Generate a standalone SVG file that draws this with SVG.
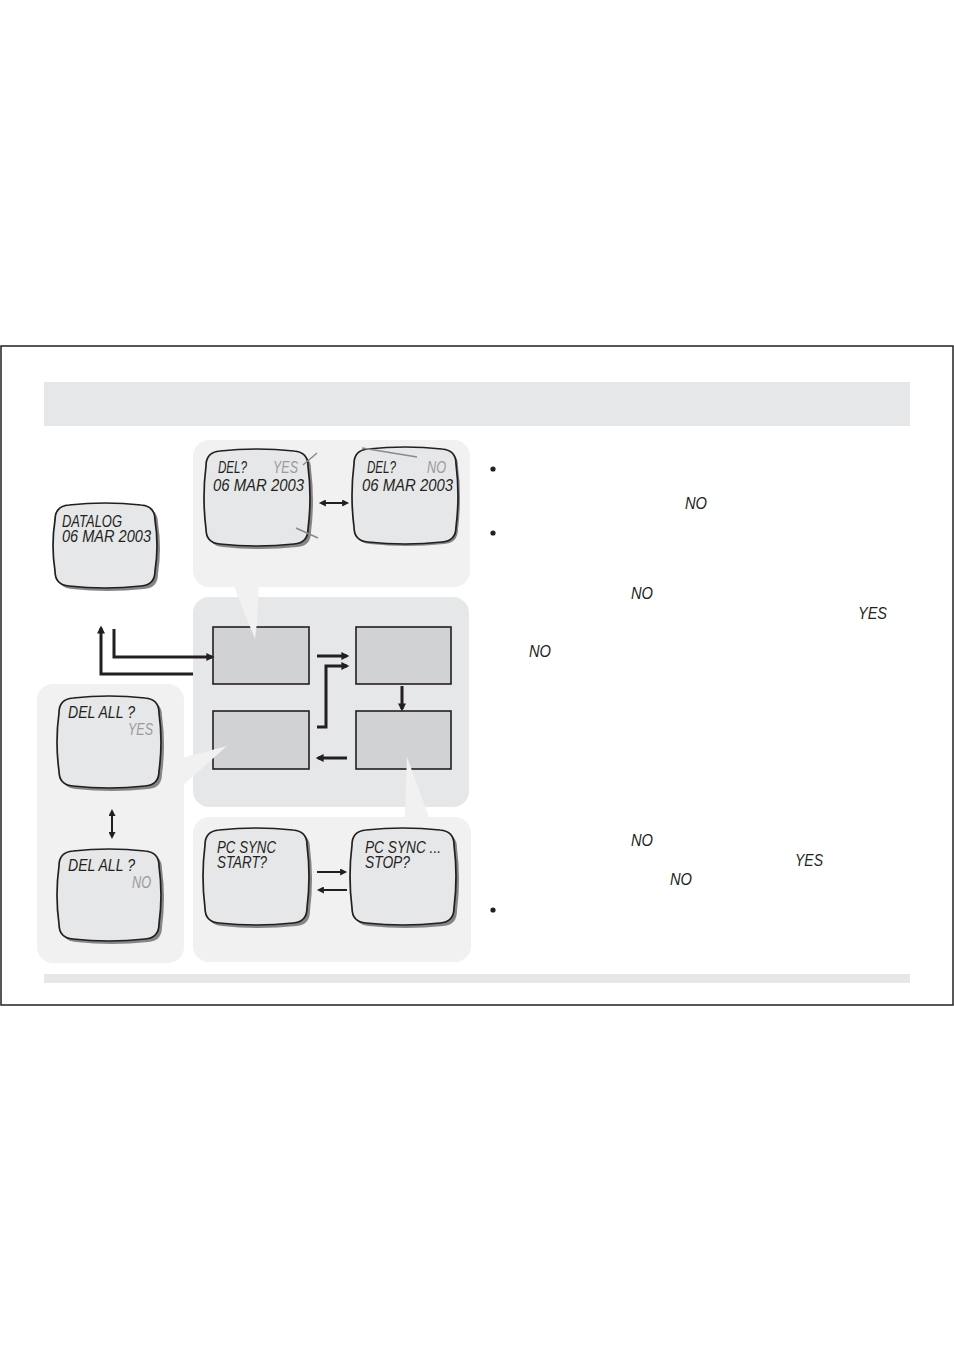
<svg xmlns="http://www.w3.org/2000/svg" xmlns:xlink="http://www.w3.org/1999/xlink" width="954" height="1351" viewBox="0 0 954 1351">
<style>
.panel{fill:#f1f1f1}
.cpanel{fill:#e6e7e8}
.box{fill:#d1d2d4;stroke:#231f20;stroke-width:1.6}
.tail{fill:#f1f1f1}
.scr{fill:#e6e7e8;stroke:#231f20;stroke-width:1.7}
.shd{fill:#858585}
.t{font-family:"Liberation Sans",Arial,sans-serif;font-style:italic;font-size:16px;fill:#231f20}
.g{fill:#9a9a9a}
.thick{fill:none;stroke:#231f20;stroke-width:3}
.thin{fill:none;stroke:#231f20;stroke-width:2}
.slash{fill:none;stroke:#8a8a8a;stroke-width:1.5}
</style>
<defs>
<marker id="ah" viewBox="0 0 10 10" refX="7" refY="5" markerUnits="userSpaceOnUse" markerWidth="9" markerHeight="8" orient="auto"><path d="M0,0 L10,5 L0,10 z" fill="#231f20"/></marker>
<marker id="ahs" viewBox="0 0 10 10" refX="7" refY="5" markerUnits="userSpaceOnUse" markerWidth="8" markerHeight="7" orient="auto-start-reverse"><path d="M0,0 L10,5 L0,10 z" fill="#231f20"/></marker>
<path id="crtA" d="M14,1 Q51,-3 88,1 Q102,2 102,16 Q106,47.5 102,79 Q102,93 88,94 Q51,98 14,94 Q0,93 0,79 Q-4,47.5 0,16 Q0,2 14,1 Z"/>
<path id="crtB" d="M14,1 Q50,-3 86,1 Q100,2 100,16 Q104,45 100,74 Q100,88 86,89 Q50,93 14,89 Q0,88 0,74 Q-4,45 0,16 Q0,2 14,1 Z"/>
<path id="crtC" d="M14,1 Q50,-3 86,1 Q100,2 100,16 Q104,41.5 100,67 Q100,81 86,82 Q50,86 14,82 Q0,81 0,67 Q-4,41.5 0,16 Q0,2 14,1 Z"/>
</defs>
<rect width="954" height="1351" fill="#ffffff"/>
<rect x="1" y="346" width="952" height="659" fill="none" stroke="#231f20" stroke-width="1.5"/>
<rect id="header" x="44" y="382" width="866" height="44" fill="#e6e7e8"/>
<rect id="footer" x="44" y="974" width="866" height="9" fill="#e6e7e8"/>

<g id="panels">
<rect class="panel" x="193" y="440" width="277" height="147" rx="16"/>
<rect class="panel" x="37" y="684" width="147" height="279" rx="16"/>
<rect class="cpanel" x="193" y="597" width="276" height="210" rx="16"/>
<rect class="panel" x="193" y="817" width="278" height="145" rx="16"/>
</g>

<g id="state-boxes">
<rect id="box-tl" class="box" x="213" y="627" width="96" height="57"/>
<rect id="box-tr" class="box" x="356" y="627" width="95" height="57"/>
<rect id="box-bl" class="box" x="213" y="711" width="96" height="58"/>
<rect id="box-br" class="box" x="356" y="711" width="95" height="58"/>
</g>

<g id="tails">
<polygon class="tail" points="233,584 259,584 257,622 255,639"/>
<polygon class="tail" points="182,758 227,746 182,786"/>
<polygon class="tail" points="407,757 429,817 405,817 406,780"/>
</g>

<g id="screen-datalog">
<use xlink:href="#crtC" class="shd" transform="translate(58,507)"/>
<use xlink:href="#crtC" class="scr" transform="translate(55,504)"/>
<text class="t" x="62" y="527" textLength="60" lengthAdjust="spacingAndGlyphs">DATALOG</text>
<text class="t" x="62" y="542" textLength="89" lengthAdjust="spacingAndGlyphs">06 MAR 2003</text>
</g>

<g id="screen-del-yes">
<use xlink:href="#crtA" class="shd" transform="translate(209,453)"/>
<use xlink:href="#crtA" class="scr" transform="translate(206,450)"/>
<text class="t" x="218" y="473" textLength="29" lengthAdjust="spacingAndGlyphs">DEL?</text>
<text class="t g" x="273" y="473" textLength="25" lengthAdjust="spacingAndGlyphs">YES</text>
<text class="t" x="213" y="491" textLength="91" lengthAdjust="spacingAndGlyphs">06 MAR 2003</text>
</g>

<g id="screen-del-no">
<use xlink:href="#crtA" class="shd" transform="translate(356,450)"/>
<use xlink:href="#crtA" class="scr" transform="translate(354,448)"/>
<text class="t" x="367" y="473" textLength="29" lengthAdjust="spacingAndGlyphs">DEL?</text>
<text class="t g" x="427" y="473" textLength="19" lengthAdjust="spacingAndGlyphs">NO</text>
<text class="t" x="362" y="491" textLength="91" lengthAdjust="spacingAndGlyphs">06 MAR 2003</text>
</g>

<g id="screen-delall-yes">
<use xlink:href="#crtB" class="shd" transform="translate(62,700)"/>
<use xlink:href="#crtB" class="scr" transform="translate(59,697)"/>
<text class="t" x="68" y="718" textLength="67" lengthAdjust="spacingAndGlyphs">DEL ALL ?</text>
<text class="t g" x="128" y="735" textLength="25" lengthAdjust="spacingAndGlyphs">YES</text>
</g>

<g id="screen-delall-no">
<use xlink:href="#crtB" class="shd" transform="translate(62,853)"/>
<use xlink:href="#crtB" class="scr" transform="translate(59,850)"/>
<text class="t" x="68" y="871" textLength="67" lengthAdjust="spacingAndGlyphs">DEL ALL ?</text>
<text class="t g" x="132" y="888" textLength="19" lengthAdjust="spacingAndGlyphs">NO</text>
</g>

<g id="screen-pc-start">
<use xlink:href="#crtA" class="shd" transform="translate(208,832)"/>
<use xlink:href="#crtA" class="scr" transform="translate(205,829)"/>
<text class="t" x="217" y="853" textLength="59" lengthAdjust="spacingAndGlyphs">PC SYNC</text>
<text class="t" x="217" y="868" textLength="50" lengthAdjust="spacingAndGlyphs">START?</text>
</g>

<g id="screen-pc-stop">
<use xlink:href="#crtA" class="shd" transform="translate(355,832)"/>
<use xlink:href="#crtA" class="scr" transform="translate(352,829)"/>
<text class="t" x="365" y="853" textLength="76" lengthAdjust="spacingAndGlyphs">PC SYNC ...</text>
<text class="t" x="365" y="868" textLength="45" lengthAdjust="spacingAndGlyphs">STOP?</text>
</g>

<g id="marks">
<line class="slash" x1="303" y1="465" x2="317" y2="453"/>
<line class="slash" x1="296" y1="528" x2="318" y2="538"/>
<line class="slash" x1="362" y1="448" x2="417" y2="457"/>
</g>

<g id="connectors">
<path class="thick" d="M317,656 H347" marker-end="url(#ah)"/>
<path class="thick" d="M317,727 H326 V666 H347" marker-end="url(#ah)"/>
<path class="thick" d="M402,686 V709" marker-end="url(#ah)"/>
<path class="thick" d="M347,758 H318" marker-end="url(#ah)"/>
<path class="thick" d="M114,629 V657 H212" marker-end="url(#ah)"/>
<path class="thick" d="M193,674 H101 V628" marker-end="url(#ah)"/>
<path class="thin" d="M321,503 H347" marker-start="url(#ahs)" marker-end="url(#ahs)"/>
<path class="thin" d="M112,811 V837" marker-start="url(#ahs)" marker-end="url(#ahs)"/>
<path class="thin" d="M317,872 H345" marker-end="url(#ahs)"/>
<path class="thin" d="M347,890 H319" marker-end="url(#ahs)"/>
</g>

<g id="notes">
<circle cx="493" cy="469" r="2.6" fill="#231f20"/>
<circle cx="493" cy="533" r="2.6" fill="#231f20"/>
<circle cx="493" cy="910" r="2.6" fill="#231f20"/>
<text class="t" x="685" y="509" textLength="22" lengthAdjust="spacingAndGlyphs">NO</text>
<text class="t" x="631" y="599" textLength="22" lengthAdjust="spacingAndGlyphs">NO</text>
<text class="t" x="858" y="619" textLength="29" lengthAdjust="spacingAndGlyphs">YES</text>
<text class="t" x="529" y="657" textLength="22" lengthAdjust="spacingAndGlyphs">NO</text>
<text class="t" x="631" y="846" textLength="22" lengthAdjust="spacingAndGlyphs">NO</text>
<text class="t" x="795" y="866" textLength="28" lengthAdjust="spacingAndGlyphs">YES</text>
<text class="t" x="670" y="885" textLength="22" lengthAdjust="spacingAndGlyphs">NO</text>
</g>
</svg>
